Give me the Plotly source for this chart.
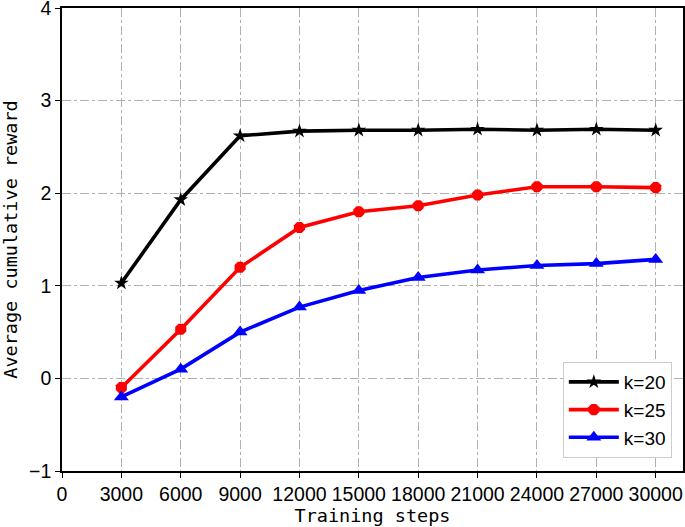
import plotly.graph_objects as go

steps = [3000, 6000, 9000, 12000, 15000, 18000, 21000, 24000, 27000, 30000]
k20 = [1.03, 1.93, 2.62, 2.67, 2.68, 2.68, 2.69, 2.68, 2.69, 2.68]
k25 = [-0.10, 0.53, 1.20, 1.63, 1.80, 1.865, 1.98, 2.07, 2.07, 2.06]
k30 = [-0.20, 0.10, 0.50, 0.77, 0.95, 1.09, 1.17, 1.22, 1.24, 1.285]
x_ticks = [0, 3000, 6000, 9000, 12000, 15000, 18000, 21000, 24000, 27000, 30000]
x_labels = [str(v) for v in x_ticks]
y_ticks = [-1, 0, 1, 2, 3, 4]
y_labels = ["\u22121", "0", "1", "2", "3", "4"]

fig = go.Figure()
series = [
    ("k=20", k20, "black", "star", 11),
    ("k=25", k25, "red", "octagon", 12),
    ("k=30", k30, "blue", "triangle-up", 13),
]
for name, ys, col, sym, sz in series:
    fig.add_trace(go.Scatter(
        x=steps, y=ys, name=name, mode="lines+markers",
        line=dict(color=col, width=3.6),
        marker=dict(symbol=sym, size=sz, color=col),
        cliponaxis=False,
    ))

tick_font = dict(family="Liberation Sans", size=19.5, color="black")
axis_common = dict(
    showline=True, linecolor="black", linewidth=1.5, mirror=True,
    ticks="outside", ticklen=5, tickcolor="black",
    showgrid=True, gridcolor="#b0b0b0", griddash="dashdot", gridwidth=1,
    zeroline=False, automargin=False, ticklabeloverflow="allow",
)
fig.update_xaxes(range=[0, 31380], tickvals=x_ticks, ticktext=x_labels, tickfont=tick_font,
                 title=dict(text="Training steps", standoff=2,
                            font=dict(family="DejaVu Sans Mono", size=18.5, color="black")),
                 **axis_common)
fig.update_yaxes(range=[-1, 4.0001], tickvals=y_ticks, ticktext=y_labels, tickfont=tick_font,
                 title=dict(text="Average cumulative reward", standoff=10,
                            font=dict(family="DejaVu Sans Mono", size=18.5, color="black")),
                 **axis_common)

fig.update_layout(
    width=685, height=527, autosize=False,
    margin=dict(l=62, r=2, t=8, b=56),
    plot_bgcolor="white", paper_bgcolor="white",
    showlegend=True,
    legend=dict(
        x=0.982, y=0.028, xanchor="right", yanchor="bottom",
        bgcolor="white", bordercolor="#cccccc", borderwidth=1,
        font=dict(family="Liberation Sans", size=19, color="black"),
        itemwidth=50, tracegroupgap=4,
    ),
)

fig.write_html(
    "out.html",
    config={"responsive": False, "displayModeBar": False},
    post_script="document.body.style.margin='0';document.body.style.overflow='hidden';",
)
